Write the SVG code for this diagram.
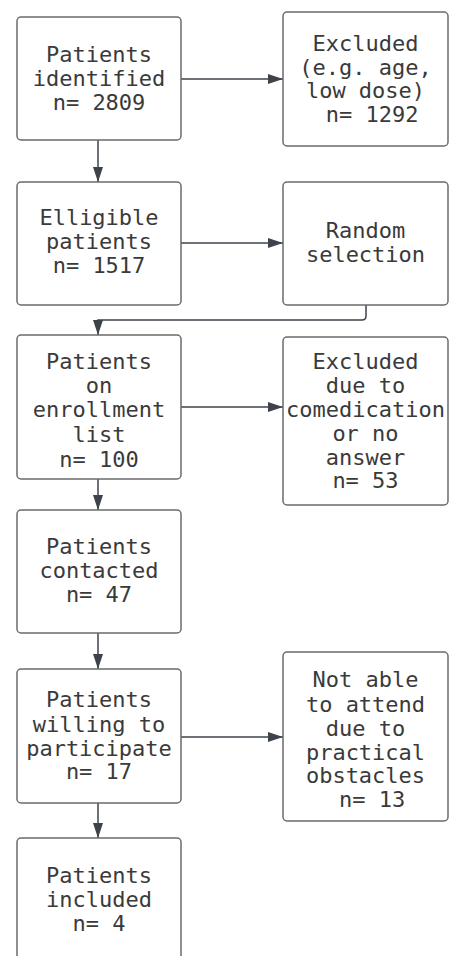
<svg xmlns="http://www.w3.org/2000/svg" width="449" height="956" viewBox="0 0 449 956">
<style>
.box{fill:#ffffff;stroke:#6b6b6b;stroke-width:1.5}
.t{font-family:"DejaVu Sans Mono","Liberation Mono",monospace;font-size:22px;fill:#3a3a3a;text-anchor:middle}
.c{fill:none;stroke:#3d424b;stroke-width:1.5}
</style>
<defs>
<marker id="ah" markerUnits="userSpaceOnUse" markerWidth="15" markerHeight="10" refX="15" refY="5" orient="auto">
<path d="M0,0 L15,5 L0,10 z" fill="#3d424b"/>
</marker>
</defs>
<rect width="449" height="956" fill="#ffffff"/>
<g id="connectors">
<path class="c" d="M181,79 H283" marker-end="url(#ah)"/>
<path class="c" d="M98,140 V182" marker-end="url(#ah)"/>
<path class="c" d="M181,243 H283" marker-end="url(#ah)"/>
<path class="c" d="M366,305 V316 Q366,320 362,320 H98 V335" marker-end="url(#ah)"/>
<path class="c" d="M181,407 H283" marker-end="url(#ah)"/>
<path class="c" d="M98,479 V510" marker-end="url(#ah)"/>
<path class="c" d="M98,633 V669" marker-end="url(#ah)"/>
<path class="c" d="M181,737 H283" marker-end="url(#ah)"/>
<path class="c" d="M98,803 V838" marker-end="url(#ah)"/>
</g>
<g id="n1">
<rect class="box" x="17" y="17" width="164" height="123" rx="4"/>
<text class="t"><tspan x="99" y="62">Patients</tspan><tspan x="99" y="86">identified</tspan><tspan x="99" y="110">n= 2809</tspan></text>
</g>
<g id="n2">
<rect class="box" x="283" y="12" width="165" height="134" rx="4"/>
<text class="t" xml:space="preserve"><tspan x="365.5" y="51">Excluded</tspan><tspan x="365.5" y="75">(e.g. age,</tspan><tspan x="365.5" y="98">low dose)</tspan><tspan x="365.5" y="122"> n= 1292</tspan></text>
</g>
<g id="n3">
<rect class="box" x="17" y="182" width="164" height="123" rx="4"/>
<text class="t"><tspan x="99" y="225">Elligible</tspan><tspan x="99" y="249">patients</tspan><tspan x="99" y="273">n= 1517</tspan></text>
</g>
<g id="n4">
<rect class="box" x="283" y="182" width="165" height="123" rx="4"/>
<text class="t"><tspan x="365.5" y="238">Random</tspan><tspan x="365.5" y="262">selection</tspan></text>
</g>
<g id="n5">
<rect class="box" x="17" y="335" width="164" height="144" rx="4"/>
<text class="t"><tspan x="99" y="369">Patients</tspan><tspan x="99" y="393">on</tspan><tspan x="99" y="417">enrollment</tspan><tspan x="99" y="442">list</tspan><tspan x="99" y="467">n= 100</tspan></text>
</g>
<g id="n6">
<rect class="box" x="283" y="337" width="165" height="168" rx="4"/>
<text class="t"><tspan x="365.5" y="369">Excluded</tspan><tspan x="365.5" y="393">due to</tspan><tspan x="365.5" y="417">comedication</tspan><tspan x="365.5" y="441">or no</tspan><tspan x="365.5" y="465">answer</tspan><tspan x="365.5" y="488">n= 53</tspan></text>
</g>
<g id="n7">
<rect class="box" x="17" y="510" width="164" height="123" rx="4"/>
<text class="t"><tspan x="99" y="554">Patients</tspan><tspan x="99" y="578">contacted</tspan><tspan x="99" y="602">n= 47</tspan></text>
</g>
<g id="n8">
<rect class="box" x="17" y="669" width="164" height="134" rx="4"/>
<text class="t"><tspan x="99" y="707">Patients</tspan><tspan x="99" y="732">willing to</tspan><tspan x="99" y="756">participate</tspan><tspan x="99" y="779">n= 17</tspan></text>
</g>
<g id="n9">
<rect class="box" x="283" y="652" width="165" height="169" rx="4"/>
<text class="t" xml:space="preserve"><tspan x="365.5" y="687">Not able</tspan><tspan x="365.5" y="712">to attend</tspan><tspan x="365.5" y="736">due to</tspan><tspan x="365.5" y="760">practical</tspan><tspan x="365.5" y="783">obstacles</tspan><tspan x="365.5" y="807"> n= 13</tspan></text>
</g>
<g id="n10">
<rect class="box" x="17" y="838" width="164" height="140" rx="4"/>
<text class="t"><tspan x="99" y="883">Patients</tspan><tspan x="99" y="907">included</tspan><tspan x="99" y="931">n= 4</tspan></text>
</g>
</svg>
